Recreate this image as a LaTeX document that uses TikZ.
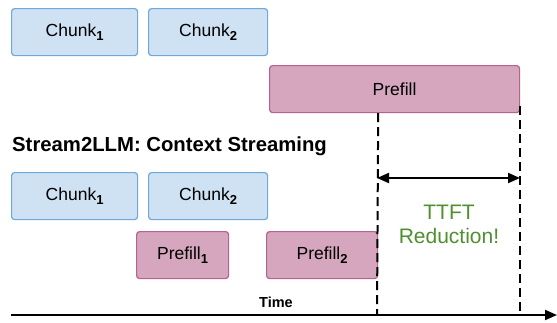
\documentclass[tikz,border=0pt]{standalone}
\usepackage{fontspec}
\setmainfont{Liberation Sans}
\usetikzlibrary{arrows.meta}

\definecolor{chunkfill}{HTML}{CFE2F3}
\definecolor{chunkline}{HTML}{6FA8DC}
\definecolor{prefillfill}{HTML}{D5A6BD}
\definecolor{prefillline}{HTML}{B5628F}
\definecolor{gaingreen}{HTML}{4E8F2F}

% bold, lowered index after a box label
\newcommand{\idx}[1]{\raisebox{-3.5pt}{\fontsize{13}{12}\selectfont\bfseries #1}}

\tikzset{
  box/.style={draw, line width=1.2pt, rounded corners=3pt, anchor=north west,
    inner sep=0pt, font=\fontsize{17.5}{20}\selectfont},
  chunkbox/.style={box, fill=chunkfill, draw=chunkline},
  prefillbox/.style={box, fill=prefillfill, draw=prefillline},
  guide/.style={line width=2pt, dash pattern=on 9pt off 5pt},
  tip/.style={-{Triangle[length=12pt,width=10pt]}},
}

\begin{document}
\begin{tikzpicture}[x=1pt,y=-1pt]
  \useasboundingbox (0,0) rectangle (557,322);

  % baseline schedule: all chunks first, then one prefill
  \node[chunkbox, minimum width=126pt, minimum height=47pt] (c1) at (11,8) {Chunk\idx{1}};
  \node[chunkbox, minimum width=119pt, minimum height=47pt] (c2) at (148,8) {Chunk\idx{2}};
  \node[prefillbox, minimum width=250pt, minimum height=47pt] (pf) at (269,65) {Prefill};

  \node[font=\fontsize{20.3}{22}\selectfont\bfseries, anchor=west, inner sep=0pt] (title) at (12,146) {Stream2LLM: Context Streaming};

  % streaming schedule: prefill overlaps with chunk arrival
  \node[chunkbox, minimum width=126pt, minimum height=47pt] (s1) at (11,172) {Chunk\idx{1}};
  \node[chunkbox, minimum width=119pt, minimum height=47pt] (s2) at (148,172) {Chunk\idx{2}};
  \node[prefillbox, minimum width=92pt, minimum height=47pt] (p1) at (136,231) {Prefill\idx{1}};
  \node[prefillbox, minimum width=111pt, minimum height=47pt] (p2) at (266,231) {Prefill\idx{2}};

  % time axis
  \coordinate (t0) at (11,315);
  \coordinate (t1) at (557,315);
  \draw[line width=2pt, tip] (t0) -- (t1);
  \node[font=\fontsize{14.5}{16}\selectfont\bfseries] (time) at (276,302) {Time};

  % end markers of both schedules
  \coordinate (e1) at (377,315);
  \coordinate (e2) at (520,315);
  \coordinate (e2top) at (520,106);
  \draw[guide] (p2.north east |- pf.south) -- (e1);
  \draw[guide] (e2top) -- (e2);

  % gained time
  \coordinate (g1) at (377,178);
  \coordinate (g2) at (520,178);
  \draw[line width=2pt, {Triangle[length=12pt,width=10pt]}-{Triangle[length=12pt,width=10pt]}] (g1) -- (g2);
  \node[text=gaingreen, font=\fontsize{21}{24}\selectfont, align=center] (gain) at (449,224) {TTFT\\Reduction!};
\end{tikzpicture}
\end{document}
